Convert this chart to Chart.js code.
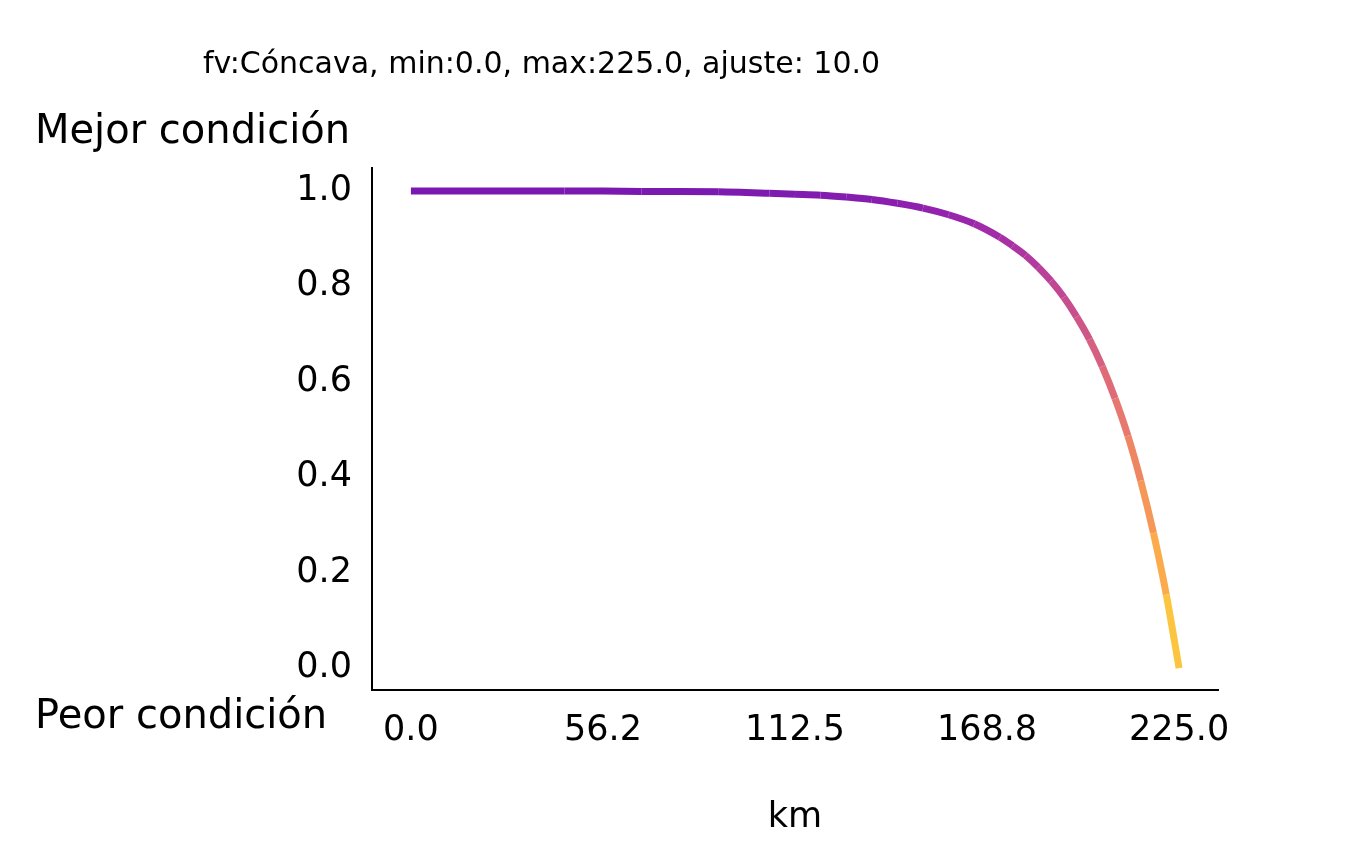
<!DOCTYPE html>
<html><head><meta charset="utf-8">
<script src="https://cdn.jsdelivr.net/npm/chart.js@4/dist/chart.umd.min.js"></script>
<style>
body{margin:0;background:#fff;font-family:"DejaVu Sans",sans-serif;}
#wrap{position:absolute;left:0;top:0;width:1353px;height:843px;}
.lbl{position:absolute;font-size:40px;color:#000;white-space:nowrap;line-height:1;}
</style></head><body>
<div id="wrap"><canvas id="c" width="1353" height="843"></canvas></div>
<div class="lbl" style="left:35px;top:109px">Mejor condición</div>
<div class="lbl" style="left:35px;top:694px">Peor condición</div>
<div class="lbl" style="left:203px;top:48px;font-size:30px">fv:Cóncava, min:0.0, max:225.0, ajuste: 10.0</div>
<script>
const kmValues = [0,22.5,45,67.5,90,105,112.5,120,127.5,135,142.5,150,157.5,165,172.5,176.25,180,183.75,187.5,191.25,195,198.75,202.5,206.25,210,213.75,217.5,221.25,225];
const conditionValues = [1.000,1.000,1.000,0.999,0.998,0.995,0.993,0.991,0.987,0.982,0.974,0.964,0.950,0.931,0.903,0.885,0.865,0.840,0.811,0.777,0.736,0.689,0.632,0.565,0.487,0.393,0.283,0.154,0.000];
const xTicks = [0,56.25,112.5,168.75,225];
const xTickLabels = ["0.0","56.2","112.5","168.8","225.0"];
const yTicks = [0,0.2,0.4,0.6,0.8,1.0];

const plasma = ["#0d0887","#41049d","#6a00a8","#8f0da4","#b12a90","#cc4778","#e16462","#f2844b","#fca636","#fcce25","#f0f921"];
function hex(h){return [1,3,5].map(i=>parseInt(h.substr(i,2),16));}
function cmap(v){v=Math.max(0,Math.min(1,v));const p=v*10,i=Math.min(9,Math.floor(p)),f=p-i;
 const a=hex(plasma[i]),b=hex(plasma[i+1]);const c=a.map((x,k)=>Math.round(x+(b[k]-x)*f));
 return `rgba(${c[0]},${c[1]},${c[2]},0.9)`;}
function colFor(y){return cmap(0.2+0.7*Math.pow(Math.max(0,1-y),0.7));}

const F={size:35,family:'DejaVu Sans'};
new Chart(document.getElementById('c'),{
 type:'line',
 data:{datasets:[{data:kmValues.map((x,i)=>({x,y:conditionValues[i]})),
  borderWidth:7,pointRadius:0,tension:0.3,borderCapStyle:'butt',
  segment:{borderColor:ctx=>colFor((ctx.p0.parsed.y+ctx.p1.parsed.y)/2)}}]},
 options:{responsive:false,animation:false,
  layout:{padding:{left:0,right:135,top:168,bottom:0}},
  plugins:{legend:{display:false},tooltip:{enabled:false}},
  scales:{
   x:{type:'linear',min:-11.4,max:236.4,
    afterBuildTicks:a=>{a.ticks=xTicks.map(v=>({value:v}));},
    afterFit:s=>{s.height=153;},
    ticks:{callback:(v)=>xTickLabels[xTicks.indexOf(v)] ?? '',font:F,color:'#000',padding:10,maxRotation:0},
    grid:{display:false,drawTicks:true,tickLength:10,tickColor:'#000'},
    border:{color:'#000',width:2},
    title:{display:true,text:'km',font:F,color:'#000',padding:{top:16}}},
   y:{type:'linear',min:-0.046,max:1.048,
    afterBuildTicks:a=>{a.ticks=yTicks.map(v=>({value:v}));},
    afterFit:s=>{s.width=372;},
    ticks:{callback:v=>v.toFixed(1),font:F,color:'#000',padding:10},
    grid:{display:false,drawTicks:true,tickLength:10,tickColor:'#000'},
    border:{color:'#000',width:2}}
  }}
});
</script></body></html>
